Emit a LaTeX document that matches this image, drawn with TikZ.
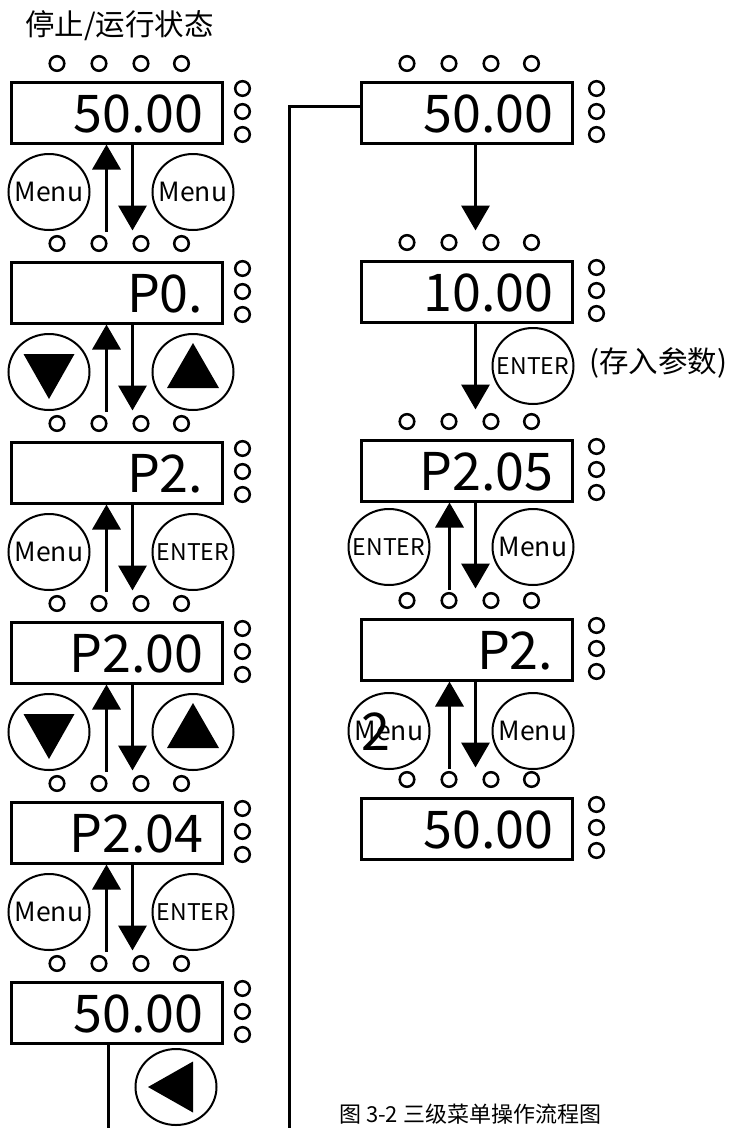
\documentclass[tikz,border=0pt]{standalone}
\usepackage{fontspec}
\setmainfont{Noto Sans CJK SC}
\usetikzlibrary{arrows.meta,shapes.geometric,calc}
\newcommand\ledrow[2]{%
  \foreach \dx in {47.5,89.5,131.5,172} \draw[led] ($(#1.north west)+(\dx,-17)$) circle[radius=7.3pt];
  \foreach \dy in {8,31,54} \draw[led] ($(#1.north east)+(#2,\dy)$) circle[radius=7.3pt];
}
\begin{document}
\begin{tikzpicture}[x=1pt,y=-1pt,
  box/.style={draw, line width=3pt, minimum width=211pt, minimum height=61pt, inner sep=0pt},
  disp/.style={font=\fontsize{52}{52}\selectfont, inner sep=0pt, anchor=base east},
  led/.style={line width=2.5pt},
  key/.style={draw, ellipse, line width=2pt, minimum width=81pt, minimum height=76pt, inner sep=0pt},
  menutxt/.style={font=\fontsize{26.5}{26.5}\selectfont, inner sep=0pt},
  entertxt/.style={font=\fontsize{23}{23}\selectfont, inner sep=0pt},
  arr/.style={line width=3.5pt, -{Triangle[width=28pt,length=25pt]}},
  wire/.style={line width=3pt},
  tri/.style={fill=black}
]
\useasboundingbox[fill=white] (0,0) rectangle (731,1128);

\node[anchor=west, font=\fontsize{29.5}{29.5}\selectfont, inner sep=0pt] (title) at (25,26) {停止/运行状态};

% left column boxes
\foreach \n/\k in {L1/0,L2/1,L3/2,L4/3,L5/4,L6/5}
  \node[box] (\n) at (116.5,{112.5+180*\k}) {};
\node[disp] (t1) at ($(L1.east)+(-20,19.5)$) {50.00};
\node[disp] (t2) at ($(L2.east)+(-20,19.5)$) {P0.};
\node[disp] (t3) at ($(L3.east)+(-20,19.5)$) {P2.};
\node[disp] (t4) at ($(L4.east)+(-20,19.5)$) {P2.00};
\node[disp] (t5) at ($(L5.east)+(-20,19.5)$) {P2.04};
\node[disp] (t6) at ($(L6.east)+(-20,19.5)$) {50.00};
\foreach \n in {L1,L2,L3,L4,L5,L6} {\ledrow{\n}{19}}

% left column arrows
\foreach \n in {L1,L2,L3,L4,L5} {
  \coordinate (u\n) at ($(\n.south west)+(97,87)$);
  \coordinate (d\n) at ($(\n.south west)+(123,86)$);
  \draw[arr] (u\n) -- (u\n |- \n.south);
  \draw[arr] (d\n |- \n.south) -- (d\n);
}

% left column keys
\node[key, label={[menutxt]center:Menu}] (k1a) at (49,192) {};
\node[key, label={[menutxt]center:Menu}] (k1b) at (193,192) {};
\node[key] (k2a) at (49,372) {};
\node[key] (k2b) at (193,372) {};
\node[key, label={[menutxt]center:Menu}] (k3a) at (49,552) {};
\node[key, label={[entertxt]center:ENTER}] (k3b) at (193,552) {};
\node[key] (k4a) at (49,732) {};
\node[key] (k4b) at (193,732) {};
\node[key, label={[menutxt]center:Menu}] (k5a) at (49,912) {};
\node[key, label={[entertxt]center:ENTER}] (k5b) at (193,912) {};
\node[key] (k6) at (176,1087) {};
\foreach \n in {k2a,k4a} \fill[tri] ($(\n)+(-25.5,-18)$) -- ($(\n)+(25.5,-18)$) -- ($(\n)+(0,27)$) -- cycle;
\foreach \n in {k2b,k4b} \fill[tri] ($(\n)+(-26,16)$) -- ($(\n)+(26,16)$) -- ($(\n)+(0,-29)$) -- cycle;
\fill[tri] ($(k6)+(-28,0)$) -- ($(k6)+(17,-25.5)$) -- ($(k6)+(17,25.5)$) -- cycle;

% right column boxes
\foreach \n/\k in {R1/0,R2/1,R3/2,R4/3,R5/4}
  \node[box] (\n) at (466.5,{112.5+179*\k}) {};
\node[disp] (s1) at ($(R1.east)+(-20,19.5)$) {50.00};
\node[disp] (s2) at ($(R2.east)+(-20,19.5)$) {10.00};
\node[disp] (s3) at ($(R3.east)+(-20,19.5)$) {P2.05};
\node[disp] (s4) at ($(R4.east)+(-20,19.5)$) {P2.};
\node[disp] (s5) at ($(R5.east)+(-20,19.5)$) {50.00};
\foreach \n in {R1,R2,R3,R4,R5} {\ledrow{\n}{23}}

% right column arrows
\foreach \n in {R1,R2} {
  \coordinate (d\n) at ($(\n.south west)+(116,86)$);
  \draw[arr] (d\n |- \n.south) -- (d\n);
}
\foreach \n in {R3,R4} {
  \coordinate (u\n) at ($(\n.south west)+(90,87)$);
  \coordinate (d\n) at ($(\n.south west)+(116,86)$);
  \draw[arr] (u\n) -- (u\n |- \n.south);
  \draw[arr] (d\n |- \n.south) -- (d\n);
}

% right column keys
\node[key, label={[entertxt]center:ENTER}] (r2) at (533,366) {};
\node[anchor=west, font=\fontsize{29.5}{29.5}\selectfont, inner sep=0pt] (note) at (589,363) {(存入参数)};
\node[key, label={[entertxt]center:ENTER}] (r3a) at (389,547) {};
\node[key, label={[menutxt]center:Menu}] (r3b) at (533,547) {};
\node[key, label={[menutxt]center:Menu}] (r4a) at (389,731) {};
\node[key, label={[menutxt]center:Menu}] (r4b) at (533,731) {};
\node[font=\fontsize{52}{52}\selectfont, inner sep=0pt] (two) at (376,732) {2};

% connecting lines
\coordinate (bl) at (108,1128);
\draw[wire] (L6.south -| bl) -- (bl);
\coordinate (br) at (289,1128);
\draw[wire] (br) |- ([yshift=6.5pt]R1.west);

\node[anchor=west, font=\fontsize{22}{22}\selectfont, inner sep=0pt] (cap) at (339,1114) {图 3-2 三级菜单操作流程图};
\end{tikzpicture}
\end{document}
